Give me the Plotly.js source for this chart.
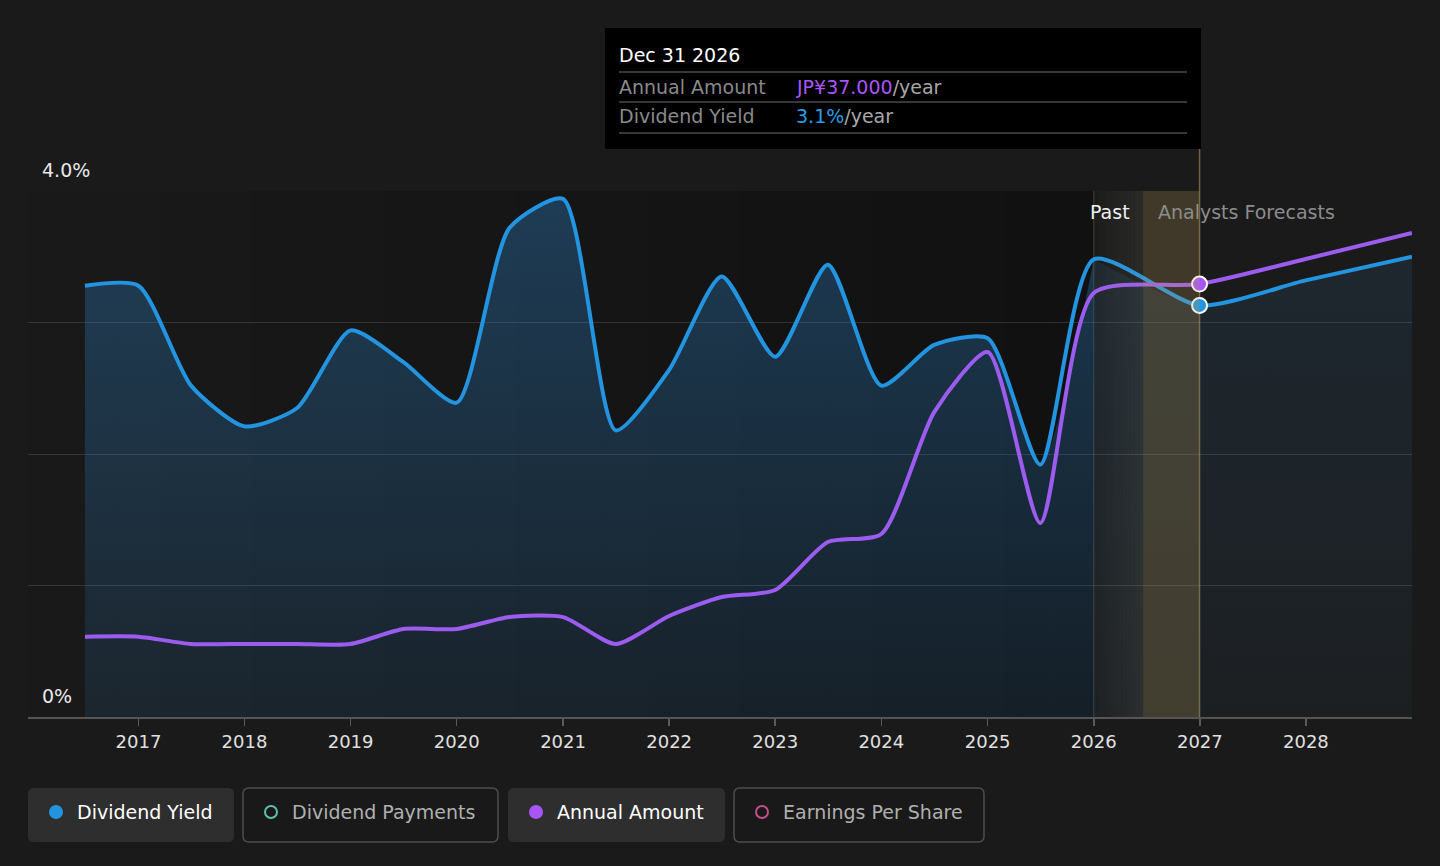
<!DOCTYPE html>
<html>
<head>
<meta charset="utf-8">
<script src="https://cdn.plot.ly/plotly-3.0.1.min.js"></script>
<style>
  html, body { margin:0; padding:0; background:#1a1a1a; }
  #chart { width:1440px; height:866px; }
</style>
</head>
<body>
<div id="chart"></div>
<script>
// ---- data ----
const dates = ['2016-07-01','2017-01-01','2017-07-01','2018-01-01','2018-07-01','2019-01-01','2019-07-01',
  '2020-01-01','2020-07-01','2021-01-01','2021-07-01','2022-01-01','2022-07-01','2023-01-01','2023-07-01',
  '2024-01-01','2024-07-01','2025-01-01','2025-07-01','2026-01-01','2026-12-31','2027-12-31','2028-12-31'];
const dividendYield = [3.28,3.28,2.52,2.21,2.35,2.94,2.70,2.39,3.72,3.94,2.18,2.64,3.35,2.74,3.44,
  2.52,2.83,2.88,1.92,3.48,3.13,3.32,3.50];
const annualAmount = [6.86,6.86,6.24,6.24,6.24,6.24,7.52,7.52,8.54,8.54,6.24,8.63,10.25,10.85,14.95,
  15.64,26.06,31.19,16.58,36.23,37.0,39.14,41.36];
const yearTicks = ['2017','2018','2019','2020','2021','2022','2023','2024','2025','2026','2027','2028'];
const pastEnd = '2026-01-01';
const hoverDate = '2026-12-31';
const yTickLabels = ['4.0%','0%'];
const legendItems = ['Dividend Yield','Dividend Payments','Annual Amount','Earnings Per Share'];

// ---- geometry helpers (pixel -> paper) ----
const L = 28, R = 1412, T = 191, B = 717;
const px = x => (x - L) / (R - L);
const py = y => (B - y) / (B - T);
function rr(x0, y0, x1, y1, r) {
  const P = (x, y) => px(x) + ',' + py(y);
  return 'M' + P(x0 + r, y0) + ' L' + P(x1 - r, y0) + ' Q' + P(x1, y0) + ' ' + P(x1, y0 + r) +
    ' L' + P(x1, y1 - r) + ' Q' + P(x1, y1) + ' ' + P(x1 - r, y1) +
    ' L' + P(x0 + r, y1) + ' Q' + P(x0, y1) + ' ' + P(x0, y1 - r) +
    ' L' + P(x0, y0 + r) + ' Q' + P(x0, y0) + ' ' + P(x0 + r, y0) + ' Z';
}
const toStr = ms => new Date(ms).toISOString().slice(0, 19).replace('T', ' ');

const FONT = 'DejaVu Sans, Verdana, sans-serif';
const BLUE = '#2394e0', PURPLE = '#9c5cf0';
const SMOOTH = 0.65;
const xRange = ['2015-12-18', '2028-12-31'];

const iPast = dates.indexOf(pastEnd);
const iHover = dates.indexOf(hoverDate);

// ---- traces ----
const traces = [
  { // past fill
    x: dates.slice(0, iPast + 1), y: dividendYield.slice(0, iPast + 1),
    type: 'scatter', mode: 'lines', line: {width: 0, shape: 'spline', smoothing: SMOOTH},
    fill: 'tozeroy',
    fillgradient: {type: 'vertical', start: 0, stop: 4,
      colorscale: [[0, 'rgba(45,130,200,0.12)'], [1, 'rgba(45,130,200,0.36)']]},
    hoverinfo: 'skip', showlegend: false
  },
  { // forecast fill
    x: dates.slice(iPast), y: dividendYield.slice(iPast),
    type: 'scatter', mode: 'lines', line: {width: 0, shape: 'spline', smoothing: SMOOTH},
    fill: 'tozeroy',
    fillgradient: {type: 'vertical', start: 0, stop: 4,
      colorscale: [[0, 'rgba(60,130,190,0.05)'], [1, 'rgba(60,130,190,0.14)']]},
    hoverinfo: 'skip', showlegend: false
  },
  { // dividend yield line
    x: dates, y: dividendYield, type: 'scatter', mode: 'lines',
    line: {color: BLUE, width: 4, shape: 'spline', smoothing: SMOOTH},
    hoverinfo: 'skip', showlegend: false
  },
  {
    x: [dates[iHover]], y: [dividendYield[iHover]], type: 'scatter', mode: 'markers',
    marker: {color: BLUE, size: 15, line: {color: '#ffffff', width: 2}},
    hoverinfo: 'skip', showlegend: false
  },
  { // annual amount line
    x: dates, y: annualAmount, type: 'scatter', mode: 'lines', yaxis: 'y2',
    line: {color: PURPLE, width: 4, shape: 'spline', smoothing: SMOOTH},
    hoverinfo: 'skip', showlegend: false
  },
  {
    x: [dates[iHover]], y: [annualAmount[iHover]], type: 'scatter', mode: 'markers', yaxis: 'y2',
    marker: {color: '#a855f7', size: 15, line: {color: '#ffffff', width: 2}},
    hoverinfo: 'skip', showlegend: false
  }
];

// ---- shapes ----
const shapes = [];
// past darkening (horizontal gradient)
const t0 = new Date(xRange[0]).getTime(), t1 = new Date(pastEnd).getTime();
const NSTEP = 24;
for (let k = 0; k < NSTEP; k++) {
  shapes.push({type: 'rect', xref: 'x', yref: 'paper', layer: 'below',
    x0: toStr(t0 + (t1 - t0) * k / NSTEP), x1: toStr(t0 + (t1 - t0) * (k + 1) / NSTEP),
    y0: 0, y1: 1, line: {width: 0}, fillcolor: 'rgba(0,0,0,' + (0.34 * (k + 0.5) / NSTEP).toFixed(3) + ')'});
}
// transition band 2026 -> mid 2026
const tm = new Date('2026-06-20').getTime();
const NB = 12;
for (let k = 0; k < NB; k++) {
  shapes.push({type: 'rect', xref: 'x', yref: 'paper', layer: 'above',
    x0: toStr(t1 + (tm - t1) * k / NB), x1: toStr(t1 + (tm - t1) * (k + 1) / NB),
    y0: 0, y1: 1, line: {width: 0},
    fillcolor: 'rgba(160,160,140,' + (0.02 + 0.10 * (k + 0.5) / NB).toFixed(3) + ')'});
}
shapes.push({type: 'rect', xref: 'x', yref: 'paper', layer: 'above',
  x0: '2026-06-20', x1: hoverDate, y0: 0, y1: 1, line: {width: 0},
  fillcolor: 'rgba(190,160,90,0.24)'});
// vertical lines
shapes.push({type: 'line', xref: 'x', yref: 'paper', layer: 'below', x0: pastEnd, x1: pastEnd,
  y0: 0, y1: 1, line: {color: 'rgba(140,140,120,0.35)', width: 1}});
shapes.push({type: 'line', xref: 'x', yref: 'paper', layer: 'below', x0: hoverDate, x1: hoverDate,
  y0: 0, y1: py(149), line: {color: 'rgba(150,130,80,0.7)', width: 1.5}});
// tooltip box
shapes.push({type: 'rect', xref: 'paper', yref: 'paper', x0: px(605), x1: px(1201), y0: py(149), y1: py(28),
  fillcolor: '#000000', line: {width: 0}, layer: 'above'});
[72, 102, 133].forEach(yy => shapes.push({type: 'line', xref: 'paper', yref: 'paper',
  x0: px(619), x1: px(1187), y0: py(yy), y1: py(yy), line: {color: '#4a4a4a', width: 1.5}, layer: 'above'}));
// legend buttons
const btns = [
  {x0: 28, x1: 234, active: true, color: BLUE},
  {x0: 243, x1: 498, active: false, color: '#5cc2ab'},
  {x0: 508, x1: 725, active: true, color: '#a855f7'},
  {x0: 734, x1: 984, active: false, color: '#c04f8c'}
];
btns.forEach(b => {
  shapes.push({type: 'path', xref: 'paper', yref: 'paper', path: rr(b.x0, 788, b.x1, 842, 6),
    fillcolor: b.active ? '#2e2e2e' : '#191919',
    line: {color: b.active ? 'rgba(0,0,0,0)' : '#4d4d4d', width: b.active ? 0 : 1.5}});
  const cx = b.x0 + 28, r = b.active ? 7 : 6;
  shapes.push({type: 'circle', xref: 'paper', yref: 'paper',
    x0: px(cx - r), x1: px(cx + r), y0: py(812 + r), y1: py(812 - r),
    fillcolor: b.active ? b.color : 'rgba(0,0,0,0)',
    line: {color: b.color, width: b.active ? 0 : 2}});
});

// ---- annotations ----
const fmtDate = s => {
  const d = new Date(s + 'T00:00:00Z');
  const m = ['Jan','Feb','Mar','Apr','May','Jun','Jul','Aug','Sep','Oct','Nov','Dec'][d.getUTCMonth()];
  return m + ' ' + d.getUTCDate() + ' ' + d.getUTCFullYear();
};
const ann = (text, x, y, size, color, anchor) => ({text, x: px(x), y: py(y), xref: 'paper', yref: 'paper',
  xanchor: anchor || 'left', yanchor: 'middle', showarrow: false, font: {family: FONT, size, color}});
const annotations = [
  ann(yTickLabels[0], 40, 170, 19, '#e8e8e8'),
  ann(yTickLabels[1], 40, 696, 19, '#e8e8e8'),
  ann('Past', 1132, 212, 19, '#f0f0f0', 'right'),
  ann('Analysts Forecasts', 1156, 212, 19, '#8c8c8c'),
  ann(fmtDate(hoverDate), 617, 55, 19, '#ffffff'),
  ann('Annual Amount', 617, 87, 19, '#8a8a8a'),
  ann('JP¥' + annualAmount[iHover].toFixed(3) + '<span style="color:#a8a8a8">/year</span>', 794, 87, 19, '#a855f7'),
  ann('Dividend Yield', 617, 116, 19, '#8a8a8a'),
  ann(dividendYield[iHover].toFixed(1) + '%<span style="color:#a8a8a8">/year</span>', 794, 116, 19, '#2a9de8')
];
btns.forEach((b, i) => annotations.push(ann(legendItems[i], b.x0 + 47, 812, 19, b.active ? '#ffffff' : '#b0b0b0')));

const layout = {
  width: 1440, height: 866, autosize: false,
  margin: {l: L, r: 1440 - R, t: T, b: 866 - B, pad: 0},
  paper_bgcolor: '#1a1a1a', plot_bgcolor: '#1a1a1a',
  font: {family: FONT, color: '#dddddd'},
  showlegend: false, hovermode: false,
  xaxis: {type: 'date', range: xRange, tickmode: 'array',
    tickvals: yearTicks.map(y => y + '-01-01'), ticktext: yearTicks,
    ticks: 'outside', ticklen: 7, tickwidth: 1.5, tickcolor: '#5a5a5a',
    showline: true, linecolor: '#555555', linewidth: 2, showgrid: false, zeroline: false,
    tickfont: {family: FONT, size: 18, color: '#e0e0e0'}, fixedrange: true},
  yaxis: {range: [0, 4], dtick: 1, showticklabels: false, showgrid: true,
    gridcolor: 'rgba(255,255,255,0.13)', gridwidth: 1, zeroline: false, fixedrange: true},
  yaxis2: {range: [0, 44.95], overlaying: 'y', side: 'right', showgrid: false, showticklabels: false,
    zeroline: false, showline: false, fixedrange: true},
  shapes, annotations
};

Plotly.newPlot('chart', traces, layout, {displayModeBar: false, staticPlot: true});
</script>
</body>
</html>
